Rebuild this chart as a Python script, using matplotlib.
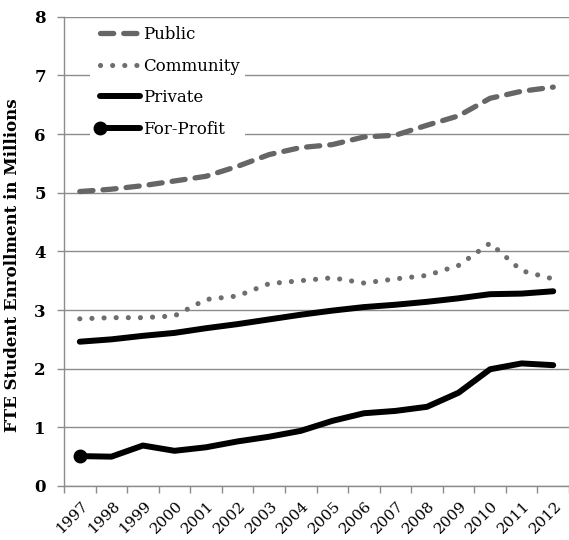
import matplotlib
matplotlib.use("Agg")
import matplotlib.pyplot as plt
from matplotlib.legend_handler import HandlerLine2D
from matplotlib.transforms import ScaledTranslation

years = ["1997", "1998", "1999", "2000", "2001", "2002", "2003", "2004",
         "2005", "2006", "2007", "2008", "2009", "2010", "2011", "2012"]
public = [5.02, 5.06, 5.12, 5.20, 5.28, 5.45, 5.65, 5.77,
          5.82, 5.95, 5.98, 6.15, 6.31, 6.61, 6.73, 6.80]
community = [2.85, 2.87, 2.87, 2.90, 3.18, 3.24, 3.45, 3.50,
             3.55, 3.46, 3.53, 3.59, 3.76, 4.14, 3.67, 3.53]
private = [2.46, 2.50, 2.56, 2.61, 2.69, 2.76, 2.84, 2.92,
           2.99, 3.05, 3.09, 3.14, 3.20, 3.27, 3.28, 3.32]
forprofit = [0.51, 0.50, 0.69, 0.60, 0.66, 0.76, 0.84, 0.94,
             1.11, 1.24, 1.28, 1.35, 1.59, 1.99, 2.09, 2.06]
yticks = [0, 1, 2, 3, 4, 5, 6, 7, 8]

SERIF = ["DejaVu Serif"]


class LeftMarkerHandler(HandlerLine2D):
    def create_artists(self, legend, orig_handle, xdescent, ydescent,
                       width, height, fontsize, trans):
        arts = super().create_artists(legend, orig_handle, xdescent, ydescent,
                                      width, height, fontsize, trans)
        for a in arts:
            a.set_markevery([0])
        return arts


fig = plt.figure(figsize=(5.69, 5.40), dpi=100)
ax = fig.add_axes([0.1125, 0.10, 0.8875, 0.869])

x = list(range(len(years)))
grid_c = "#8c8c8c"

pub_line, = ax.plot(x, public, color="#666666", lw=3.8, dashes=(2.5, 1.9),
                    dash_capstyle="round", solid_capstyle="round", zorder=3)
com_line, = ax.plot(x, community, color="#6e6e6e", lw=3.7, dashes=(0.01, 2.35),
                    dash_capstyle="round", zorder=3)
pri_line, = ax.plot(x, private, color="black", lw=4.3,
                    solid_capstyle="round", zorder=3)
fp_line, = ax.plot(x, forprofit, color="black", lw=4.3, marker="o",
                   markevery=[0], markersize=9, solid_capstyle="round", zorder=3)

ax.set_ylim(0, 8)
ax.set_xlim(-0.5, len(years) - 0.5)
ax.set_yticks(yticks)
ax.set_yticklabels([str(v) for v in yticks], fontfamily=SERIF,
                   fontweight="bold", fontsize=12)
ax.yaxis.grid(True, color=grid_c, lw=1.0)
ax.set_axisbelow(True)
ax.tick_params(axis="y", length=5, color=grid_c, width=1.0, pad=8)

ax.set_xticks(x)
ax.set_xticklabels(years, rotation=45, ha="right", va="center",
                   rotation_mode="anchor", fontfamily=SERIF, fontsize=11)
ax.tick_params(axis="x", which="major", length=0, pad=13)
ax.set_xticks([i - 0.5 for i in range(len(years) + 1)], minor=True)
ax.tick_params(axis="x", which="minor", length=5, color=grid_c, width=1.0)
offset = ScaledTranslation(6 / 100, 0, fig.dpi_scale_trans)
for lab in ax.get_xticklabels():
    lab.set_transform(lab.get_transform() + offset)

for s in ["top", "right"]:
    ax.spines[s].set_visible(False)
for s in ["left", "bottom"]:
    ax.spines[s].set_color(grid_c)
    ax.spines[s].set_linewidth(1.0)

ax.set_ylabel("FTE Student Enrollment in Millions", fontfamily=SERIF,
              fontweight="bold", fontsize=12)
ax.yaxis.set_label_coords(-0.085, 0.47)

leg = ax.legend([pub_line, com_line, pri_line, fp_line],
                ["Public", "Community", "Private", "For-Profit"],
                loc="upper left", bbox_to_anchor=(0.035, 1.008),
                numpoints=2, handlelength=3.0, handletextpad=-0.1,
                labelspacing=0.87, borderpad=0.3,
                handler_map={fp_line: LeftMarkerHandler()},
                prop={"family": SERIF, "size": 12},
                frameon=True, framealpha=1.0, facecolor="white",
                edgecolor="none", fancybox=False)

fig.savefig("out.png", dpi=100)
